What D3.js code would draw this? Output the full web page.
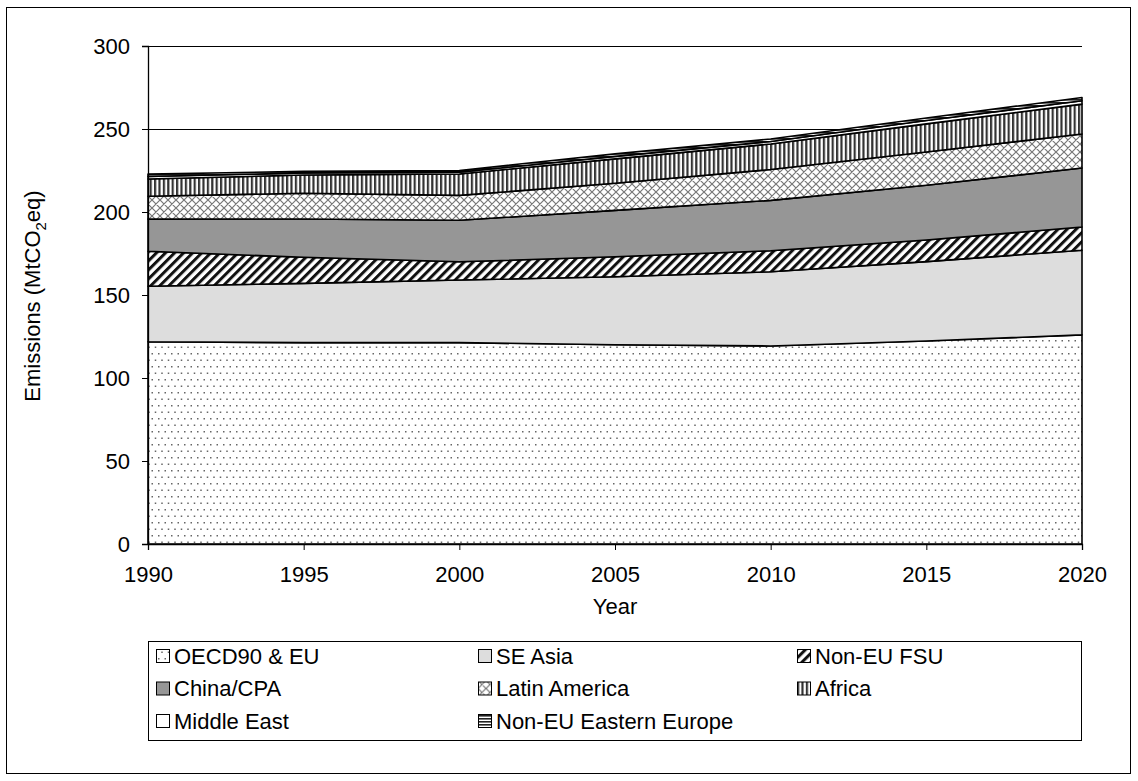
<!DOCTYPE html>
<html><head><meta charset="utf-8">
<script src="https://cdn.jsdelivr.net/npm/d3@7"></script>
<style>body{margin:0;background:#fff}svg{display:block}text{font-family:"Liberation Sans",Arial,sans-serif;fill:#000}</style>
</head><body><svg id="c" width="1138" height="781"></svg>
<script>
const years = [1990, 1995, 2000, 2005, 2010, 2015, 2020];
const seriesNames = ["OECD90 & EU","SE Asia","Non-EU FSU","China/CPA","Latin America","Africa","Middle East","Non-EU Eastern Europe"];
const oecd    = [121.8, 121.3, 121.3, 120.0, 119.3, 122.3, 126.0];
const seAsia  = [33.5, 35.7, 37.7, 41.0, 44.7, 47.8, 51.0];
const fsu     = [21.1, 15.7, 11.0, 12.0, 12.7, 13.0, 14.0];
const china   = [19.3, 23.1, 25.0, 28.0, 30.3, 33.0, 35.5];
const latin   = [13.8, 15.5, 15.0, 16.3, 18.6, 20.0, 20.5];
const africa  = [10.4, 11.0, 12.9, 14.7, 15.4, 17.0, 18.0];
const midEast = [1.5, 1.2, 1.1, 1.5, 1.5, 2.0, 2.0];
const eastEur = [1.4, 1.0, 1.0, 1.5, 1.5, 1.5, 2.0];
const yTicks = [0, 50, 100, 150, 200, 250, 300];
const xTicks = [1990, 1995, 2000, 2005, 2010, 2015, 2020];

const values = [oecd, seAsia, fsu, china, latin, africa, midEast, eastEur];
const keys = ["k0","k1","k2","k3","k4","k5","k6","k7"];
const table = years.map((y,i)=>{const o={year:y};keys.forEach((k,j)=>o[k]=values[j][i]);return o;});
const fills = ["url(#pDots)","#dddddd","url(#pDiag)","#969696","url(#pCross)","url(#pVert)","#ffffff","url(#pHoriz)"];

const svg = d3.select("#c");
const defs = svg.append("defs");
// dotted
let p = defs.append("pattern").attr("id","pDots").attr("width",13).attr("height",13).attr("patternUnits","userSpaceOnUse");
p.append("rect").attr("width",13).attr("height",13).attr("fill","#fff");
[[2,2],[8.5,2],[5.25,8.5],[11.75,8.5],[-1.25,8.5]].forEach(d=>p.append("rect").attr("x",d[0]).attr("y",d[1]).attr("width",1.5).attr("height",1.5).attr("fill","#666"));
// diagonal stripes
p = defs.append("pattern").attr("id","pDiag").attr("width",6.4).attr("height",6.4).attr("patternUnits","userSpaceOnUse").attr("patternTransform","rotate(45)");
p.append("rect").attr("width",6.4).attr("height",6.4).attr("fill","#fff");
p.append("rect").attr("width",3).attr("height",6.4).attr("fill","#111");
// crosshatch
p = defs.append("pattern").attr("id","pCross").attr("width",8).attr("height",8).attr("patternUnits","userSpaceOnUse");
p.append("rect").attr("width",8).attr("height",8).attr("fill","#fff");
p.append("path").attr("d","M0,0L8,8M8,0L0,8M-1,7L1,9M7,-1L9,1M-1,1L1,-1M7,9L9,7").attr("stroke","#777").attr("stroke-width",1.2);
// vertical stripes
p = defs.append("pattern").attr("id","pVert").attr("width",4.4).attr("height",4).attr("patternUnits","userSpaceOnUse");
p.append("rect").attr("width",4.4).attr("height",4).attr("fill","#fff");
p.append("rect").attr("width",2.2).attr("height",4).attr("fill","#333");
// horizontal stripes
p = defs.append("pattern").attr("id","pHoriz").attr("width",4).attr("height",3).attr("patternUnits","userSpaceOnUse");
p.append("rect").attr("width",4).attr("height",3).attr("fill","#fff");
p.append("rect").attr("width",4).attr("height",1.6).attr("fill","#222");

// outer border
svg.append("rect").attr("x",6.5).attr("y",7.5).attr("width",1124).attr("height",766).attr("fill","none").attr("stroke","#000").attr("stroke-width",1);

const x = d3.scaleLinear().domain([1990,2020]).range([148,1082]);
const y = d3.scaleLinear().domain([0,300]).range([544,46]);

// gridlines
svg.append("g").selectAll("line").data(yTicks.filter(d=>d>0)).join("line")
  .attr("x1",x(1990)).attr("x2",x(2020)).attr("y1",d=>y(d)+0.5).attr("y2",d=>y(d)+0.5)
  .attr("stroke","#000").attr("stroke-width",1);

const stack = d3.stack().keys(keys)(table);
const area = d3.area().x(d=>x(d.data.year)).y0(d=>y(d[0])).y1(d=>y(d[1]));
svg.append("g").selectAll("path").data(stack).join("path")
  .attr("d",area).attr("fill",(d,i)=>fills[i]).attr("stroke","#000").attr("stroke-width",1.6).attr("stroke-linejoin","round");

// axes
const yAxis = d3.axisLeft(y).tickValues(yTicks).tickSize(6).tickPadding(12);
const gy = svg.append("g").attr("transform","translate(148,0)").call(yAxis);
const xAxis = d3.axisBottom(x).tickValues(xTicks).tickFormat(d3.format("d")).tickSize(6).tickPadding(16);
const gx = svg.append("g").attr("transform","translate(0,544)").call(xAxis);
[gx,gy].forEach(g=>{g.selectAll("path").attr("stroke","#000").attr("stroke-width",1.3);g.selectAll("line").attr("stroke","#000");
  g.selectAll("text").attr("font-size",22).attr("font-family","Liberation Sans, Arial, sans-serif").attr("fill","#000");});
gy.selectAll("text").attr("dy","0.35em");

svg.append("text").attr("x",615).attr("y",614).attr("text-anchor","middle").attr("font-size",22).text("Year");
const yt = svg.append("text").attr("transform","translate(40,296) rotate(-90)").attr("text-anchor","middle").attr("font-size",22);
yt.append("tspan").text("Emissions (MtCO");
yt.append("tspan").attr("font-size",15).attr("dy",6).text("2");
yt.append("tspan").attr("dy",-6).text("eq)");

// legend
svg.append("rect").attr("x",148.5).attr("y",641.5).attr("width",933).attr("height",99).attr("fill","#fff").attr("stroke","#000");
const colX = [156, 478, 797];
const rowY = [656, 688.5, 721];
const lg = svg.append("g").selectAll("g").data(seriesNames).join("g")
  .attr("transform",(d,i)=>`translate(${colX[i%3]},${rowY[Math.floor(i/3)]})`);
lg.append("rect").attr("x",0.5).attr("y",-6.5).attr("width",13).attr("height",13).attr("fill",(d,i)=>fills[i]).attr("stroke","#000");
lg.append("text").attr("x",18).attr("y",0).attr("dy","0.35em").attr("font-size",22).text(d=>d);
</script></body></html>
